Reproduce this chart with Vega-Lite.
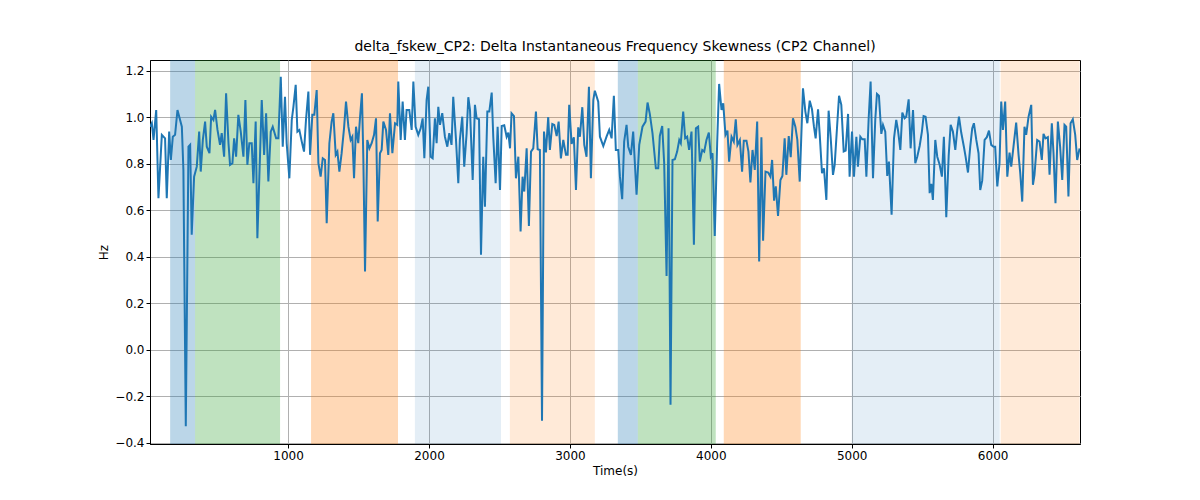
{
  "$schema": "https://vega.github.io/schema/vega-lite/v6.json",
  "width": 930,
  "height": 384,
  "autosize": "none",
  "padding": {"left": 150, "top": 60, "right": 120, "bottom": 56},
  "config": {
    "font": "DejaVu Sans",
    "view": {"stroke": "black", "strokeWidth": 1},
    "axis": {"gridColor": "#b0b0b0", "gridWidth": 1, "domainColor": "black", "tickColor": "black", "tickSize": 4,
      "labelFontSize": 12, "titleFontSize": 12, "titleFontWeight": "normal", "labelColor": "black", "titleColor": "black"}
  },
  "title": {"text": "delta_fskew_CP2: Delta Instantaneous Frequency Skewness (CP2 Channel)", "fontSize": 14, "fontWeight": "normal", "offset": 6},
  "datasets": {
    "bands": [
      {"start": 163, "end": 340, "c": "#1f77b4", "o": 0.3},
      {"start": 340, "end": 943, "c": "#2ca02c", "o": 0.3},
      {"start": 1163, "end": 1780, "c": "#ff7f0e", "o": 0.3},
      {"start": 1900, "end": 2511, "c": "#1f77b4", "o": 0.12},
      {"start": 2574, "end": 3177, "c": "#ff7f0e", "o": 0.16},
      {"start": 3340, "end": 3482, "c": "#1f77b4", "o": 0.3},
      {"start": 3482, "end": 4035, "c": "#2ca02c", "o": 0.3},
      {"start": 4092, "end": 4638, "c": "#ff7f0e", "o": 0.3},
      {"start": 5000, "end": 6050, "c": "#1f77b4", "o": 0.12},
      {"start": 6057, "end": 6617, "c": "#ff7f0e", "o": 0.16}
    ],
    "series": [
      {"t":21,"v":0.96},{"t":33,"v":0.975},{"t":45,"v":0.903},{"t":64,"v":1.032},{"t":80,"v":0.652},{"t":104,"v":0.925},{"t":127,"v":0.91},{"t":139,"v":0.652},{"t":156,"v":0.939},{"t":168,"v":0.817},{"t":182,"v":0.917},{"t":198,"v":0.925},{"t":215,"v":1.032},{"t":246,"v":0.96},{"t":257,"v":0.774},{"t":274,"v":-0.329},{"t":293,"v":0.874},{"t":305,"v":0.882},{"t":316,"v":0.495},{"t":333,"v":0.745},{"t":352,"v":0.788},{"t":369,"v":0.939},{"t":380,"v":0.767},{"t":395,"v":0.903},{"t":411,"v":0.982},{"t":423,"v":0.874},{"t":442,"v":0.846},{"t":454,"v":1.003},{"t":470,"v":0.989},{"t":482,"v":1.032},{"t":499,"v":0.946},{"t":517,"v":0.882},{"t":529,"v":0.932},{"t":546,"v":0.831},{"t":560,"v":1.104},{"t":577,"v":0.889},{"t":588,"v":0.796},{"t":605,"v":0.803},{"t":617,"v":0.91},{"t":631,"v":0.831},{"t":647,"v":1.011},{"t":664,"v":0.939},{"t":683,"v":0.831},{"t":697,"v":1.075},{"t":711,"v":0.796},{"t":725,"v":0.889},{"t":742,"v":0.889},{"t":754,"v":0.717},{"t":770,"v":0.982},{"t":782,"v":0.48},{"t":796,"v":0.745},{"t":813,"v":1.075},{"t":830,"v":0.839},{"t":844,"v":1.018},{"t":860,"v":0.724},{"t":877,"v":0.939},{"t":891,"v":0.96},{"t":915,"v":0.91},{"t":931,"v":0.91},{"t":948,"v":1.175},{"t":962,"v":0.874},{"t":978,"v":1.089},{"t":990,"v":0.889},{"t":1009,"v":0.738},{"t":1026,"v":0.989},{"t":1038,"v":1.046},{"t":1054,"v":1.14},{"t":1066,"v":0.939},{"t":1080,"v":0.946},{"t":1097,"v":0.896},{"t":1113,"v":0.853},{"t":1127,"v":0.989},{"t":1144,"v":1.111},{"t":1156,"v":0.839},{"t":1172,"v":1.011},{"t":1186,"v":1.011},{"t":1203,"v":1.118},{"t":1215,"v":0.803},{"t":1231,"v":0.745},{"t":1246,"v":0.824},{"t":1262,"v":0.817},{"t":1274,"v":0.545},{"t":1293,"v":0.889},{"t":1309,"v":0.982},{"t":1321,"v":1.018},{"t":1338,"v":0.839},{"t":1350,"v":0.853},{"t":1364,"v":0.767},{"t":1380,"v":0.846},{"t":1397,"v":0.953},{"t":1411,"v":1.068},{"t":1428,"v":0.96},{"t":1444,"v":0.903},{"t":1456,"v":0.917},{"t":1468,"v":0.738},{"t":1482,"v":0.96},{"t":1498,"v":0.889},{"t":1510,"v":0.996},{"t":1524,"v":1.104},{"t":1534,"v":0.824},{"t":1546,"v":0.337},{"t":1562,"v":0.903},{"t":1577,"v":0.867},{"t":1593,"v":0.889},{"t":1610,"v":0.925},{"t":1624,"v":0.996},{"t":1636,"v":0.552},{"t":1652,"v":0.846},{"t":1664,"v":0.86},{"t":1676,"v":0.982},{"t":1695,"v":0.946},{"t":1711,"v":0.839},{"t":1723,"v":1.018},{"t":1740,"v":0.846},{"t":1759,"v":0.975},{"t":1775,"v":0.968},{"t":1782,"v":1.154},{"t":1799,"v":0.903},{"t":1813,"v":1.068},{"t":1829,"v":0.903},{"t":1841,"v":1.032},{"t":1860,"v":1.032},{"t":1877,"v":0.946},{"t":1889,"v":1.154},{"t":1905,"v":0.96},{"t":1924,"v":0.925},{"t":1941,"v":0.953},{"t":1955,"v":0.996},{"t":1967,"v":0.824},{"t":1983,"v":1.075},{"t":1995,"v":1.132},{"t":2012,"v":0.831},{"t":2026,"v":0.824},{"t":2042,"v":0.996},{"t":2054,"v":0.889},{"t":2066,"v":1.046},{"t":2078,"v":0.968},{"t":2094,"v":1.018},{"t":2113,"v":0.917},{"t":2130,"v":0.874},{"t":2144,"v":0.932},{"t":2160,"v":0.882},{"t":2172,"v":1.089},{"t":2191,"v":0.91},{"t":2208,"v":0.717},{"t":2219,"v":0.903},{"t":2236,"v":1.003},{"t":2250,"v":0.788},{"t":2267,"v":0.932},{"t":2279,"v":1.087},
      {"t":2291,"v":1.032},{"t":2310,"v":0.731},{"t":2326,"v":1.054},{"t":2338,"v":0.996},{"t":2355,"v":0.992},{"t":2369,"v":0.409},{"t":2385,"v":0.831},{"t":2397,"v":0.616},{"t":2414,"v":1.025},{"t":2428,"v":1.025},{"t":2445,"v":1.107},{"t":2456,"v":0.917},{"t":2473,"v":0.717},{"t":2487,"v":0.96},{"t":2504,"v":0.688},{"t":2516,"v":0.963},{"t":2534,"v":0.966},{"t":2551,"v":0.917},{"t":2563,"v":0.935},{"t":2575,"v":0.867},{"t":2586,"v":1.018},{"t":2603,"v":1.006},{"t":2617,"v":0.738},{"t":2634,"v":0.831},{"t":2650,"v":0.509},{"t":2664,"v":0.745},{"t":2676,"v":0.681},{"t":2693,"v":0.867},{"t":2709,"v":0.533},{"t":2724,"v":0.853},{"t":2740,"v":0.867},{"t":2759,"v":1.025},{"t":2771,"v":0.863},{"t":2787,"v":0.86},{"t":2802,"v":-0.305},{"t":2816,"v":0.939},{"t":2830,"v":0.849},{"t":2846,"v":1.001},{"t":2858,"v":0.86},{"t":2875,"v":0.972},{"t":2889,"v":0.968},{"t":2906,"v":0.92},{"t":2920,"v":0.982},{"t":2936,"v":0.824},{"t":2953,"v":0.903},{"t":2972,"v":0.839},{"t":2984,"v":0.839},{"t":2995,"v":1.054},{"t":3012,"v":0.886},{"t":3028,"v":0.914},{"t":3043,"v":0.688},{"t":3059,"v":0.957},{"t":3071,"v":0.917},{"t":3088,"v":1.044},{"t":3102,"v":0.882},{"t":3118,"v":0.831},{"t":3135,"v":1.132},{"t":3149,"v":0.738},{"t":3166,"v":1.075},{"t":3177,"v":1.115},{"t":3201,"v":1.068},{"t":3213,"v":0.917},{"t":3237,"v":0.877},{"t":3260,"v":0.917},{"t":3279,"v":0.946},{"t":3296,"v":0.91},{"t":3312,"v":1.093},{"t":3326,"v":0.86},{"t":3343,"v":0.86},{"t":3355,"v":0.745},{"t":3371,"v":0.648},{"t":3385,"v":0.896},{"t":3402,"v":0.968},{"t":3414,"v":0.874},{"t":3433,"v":0.839},{"t":3449,"v":0.939},{"t":3473,"v":0.667},{"t":3492,"v":0.882},{"t":3515,"v":0.96},{"t":3537,"v":0.982},{"t":3551,"v":1.064},{"t":3567,"v":1.015},{"t":3586,"v":0.932},{"t":3610,"v":0.781},{"t":3627,"v":0.781},{"t":3638,"v":0.92},{"t":3655,"v":0.963},{"t":3669,"v":0.803},{"t":3686,"v":0.318},{"t":3700,"v":0.953},{"t":3714,"v":-0.236},{"t":3728,"v":0.817},{"t":3745,"v":0.82},{"t":3761,"v":0.853},{"t":3776,"v":0.903},{"t":3787,"v":0.889},{"t":3804,"v":1.025},{"t":3818,"v":0.91},{"t":3832,"v":0.917},{"t":3846,"v":0.86},{"t":3863,"v":0.939},{"t":3880,"v":0.452},{"t":3894,"v":0.953},{"t":3910,"v":0.96},{"t":3922,"v":0.81},{"t":3939,"v":0.86},{"t":3953,"v":0.853},{"t":3969,"v":0.903},{"t":3986,"v":0.935},{"t":4000,"v":0.831},{"t":4012,"v":0.846},{"t":4028,"v":0.49},{"t":4045,"v":0.889},{"t":4059,"v":1.144},{"t":4076,"v":1.032},{"t":4088,"v":1.061},{"t":4104,"v":0.925},{"t":4118,"v":0.943},{"t":4130,"v":0.81},{"t":4147,"v":0.917},{"t":4163,"v":0.896},{"t":4177,"v":0.992},{"t":4189,"v":0.882},{"t":4206,"v":0.903},{"t":4222,"v":0.767},{"t":4234,"v":0.9},{"t":4253,"v":0.9},{"t":4267,"v":0.853},{"t":4281,"v":0.72},{"t":4296,"v":0.86},{"t":4312,"v":0.774},{"t":4329,"v":0.982},{"t":4343,"v":0.38},{"t":4359,"v":0.915},{"t":4371,"v":0.47},{"t":4388,"v":0.767},{"t":4407,"v":0.763},{"t":4423,"v":0.745},{"t":4435,"v":0.817},{"t":4449,"v":0.642},{"t":4461,"v":0.703},{"t":4477,"v":0.576},
      {"t":4494,"v":0.731},{"t":4508,"v":0.748},{"t":4524,"v":0.91},{"t":4536,"v":0.753},{"t":4553,"v":0.92},{"t":4567,"v":0.829},{"t":4583,"v":0.996},{"t":4600,"v":0.96},{"t":4614,"v":0.903},{"t":4631,"v":0.724},{"t":4654,"v":1.125},{"t":4671,"v":1.025},{"t":4685,"v":0.975},{"t":4702,"v":1.072},{"t":4718,"v":1.035},{"t":4732,"v":0.96},{"t":4744,"v":0.91},{"t":4761,"v":1.035},{"t":4773,"v":0.925},{"t":4789,"v":0.76},{"t":4803,"v":0.781},{"t":4820,"v":0.645},{"t":4836,"v":1.029},{"t":4851,"v":0.91},{"t":4867,"v":0.753},{"t":4879,"v":0.796},{"t":4896,"v":0.96},{"t":4910,"v":1.093},{"t":4926,"v":1.054},{"t":4943,"v":0.853},{"t":4957,"v":0.857},{"t":4974,"v":1.015},{"t":4985,"v":0.745},{"t":5002,"v":0.939},{"t":5016,"v":0.745},{"t":5033,"v":0.917},{"t":5044,"v":0.788},{"t":5061,"v":0.917},{"t":5075,"v":0.906},{"t":5092,"v":0.906},{"t":5104,"v":0.745},{"t":5120,"v":0.992},{"t":5134,"v":1.154},{"t":5151,"v":0.738},{"t":5167,"v":0.989},{"t":5179,"v":1.101},{"t":5193,"v":1.093},{"t":5210,"v":0.929},{"t":5222,"v":0.968},{"t":5238,"v":0.939},{"t":5252,"v":0.748},{"t":5264,"v":0.81},{"t":5283,"v":0.581},{"t":5300,"v":0.91},{"t":5316,"v":0.989},{"t":5328,"v":0.946},{"t":5345,"v":0.86},{"t":5359,"v":1.021},{"t":5375,"v":0.996},{"t":5387,"v":1.003},{"t":5404,"v":1.078},{"t":5418,"v":0.867},{"t":5435,"v":1.032},{"t":5451,"v":0.803},{"t":5465,"v":0.831},{"t":5482,"v":0.877},{"t":5498,"v":0.939},{"t":5510,"v":1.006},{"t":5524,"v":1.003},{"t":5541,"v":0.925},{"t":5553,"v":0.674},{"t":5565,"v":0.714},{"t":5576,"v":0.645},{"t":5593,"v":0.903},{"t":5607,"v":0.831},{"t":5624,"v":0.796},{"t":5640,"v":0.745},{"t":5654,"v":0.917},{"t":5671,"v":0.571},{"t":5688,"v":0.834},{"t":5702,"v":0.968},{"t":5718,"v":0.939},{"t":5735,"v":0.86},{"t":5749,"v":0.946},{"t":5761,"v":1.003},{"t":5777,"v":0.935},{"t":5796,"v":0.874},{"t":5808,"v":0.831},{"t":5825,"v":0.763},{"t":5841,"v":0.874},{"t":5855,"v":0.953},{"t":5867,"v":0.975},{"t":5884,"v":0.903},{"t":5900,"v":0.846},{"t":5912,"v":0.688},{"t":5926,"v":0.728},{"t":5943,"v":0.903},{"t":5959,"v":0.915},{"t":5974,"v":0.943},{"t":5990,"v":0.882},{"t":6007,"v":0.874},{"t":6018,"v":0.874},{"t":6033,"v":0.703},{"t":6049,"v":0.803},{"t":6061,"v":1.068},{"t":6073,"v":0.946},{"t":6089,"v":1.068},{"t":6104,"v":0.745},{"t":6120,"v":0.849},{"t":6132,"v":0.788},{"t":6148,"v":0.874},{"t":6167,"v":0.978},{"t":6184,"v":0.839},{"t":6196,"v":0.76},{"t":6210,"v":0.638},{"t":6226,"v":0.96},{"t":6238,"v":0.925},{"t":6255,"v":1.003},{"t":6274,"v":1.054},{"t":6286,"v":0.71},{"t":6297,"v":0.753},{"t":6316,"v":0.903},{"t":6333,"v":0.896},{"t":6349,"v":0.817},{"t":6361,"v":0.929},{"t":6375,"v":0.91},{"t":6392,"v":0.915},{"t":6404,"v":0.753},{"t":6420,"v":0.975},{"t":6432,"v":0.846},{"t":6446,"v":0.631},{"t":6463,"v":0.982},{"t":6479,"v":0.874},{"t":6494,"v":0.731},{"t":6510,"v":0.968},{"t":6522,"v":0.96},{"t":6538,"v":0.66},{"t":6553,"v":0.975},{"t":6569,"v":0.992},{"t":6586,"v":0.925},{"t":6600,"v":0.817},{"t":6617,"v":0.867}
    ]
  },
  "layer": [
    {
      "data": {"name": "bands"},
      "mark": {"type": "rect"},
      "encoding": {
        "x": {"field": "start", "type": "quantitative", "scale": {"domain": [20, 6620], "nice": false, "zero": false},
          "axis": {"title": "Time(s)", "values": [1000, 2000, 3000, 4000, 5000, 6000], "format": "d", "grid": true, "labelFlush": false}},
        "x2": {"field": "end"},
        "color": {"field": "c", "type": "nominal", "scale": null},
        "opacity": {"field": "o", "type": "quantitative", "scale": null}
      }
    },
    {
      "data": {"name": "series"},
      "mark": {"type": "line", "color": "#1f77b4", "strokeWidth": 2, "clip": true},
      "encoding": {
        "x": {"field": "t", "type": "quantitative"},
        "y": {"field": "v", "type": "quantitative", "scale": {"domain": [-0.405, 1.247], "nice": false, "zero": false},
          "axis": {"title": "Hz", "values": [-0.4, -0.2, 0, 0.2, 0.4, 0.6, 0.8, 1.0, 1.2], "format": ".1f", "grid": true}}
      }
    }
  ]
}
